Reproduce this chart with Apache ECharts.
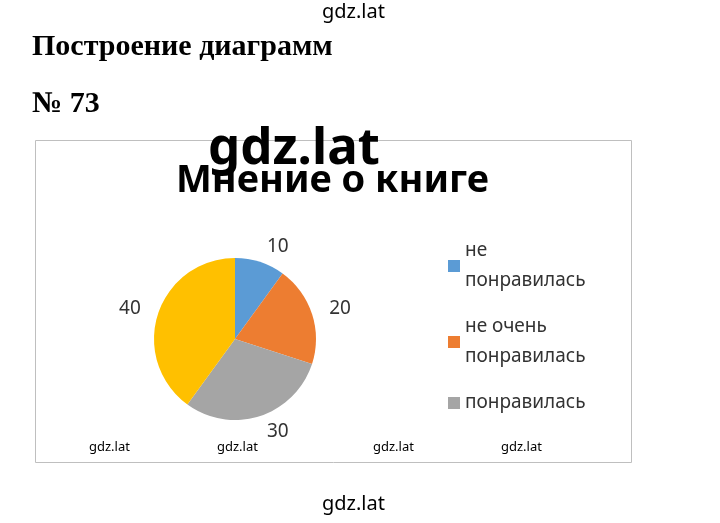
<!DOCTYPE html><html><head><meta charset="utf-8"><script src="https://cdn.jsdelivr.net/npm/echarts@6/dist/echarts.min.js"></script>
<style>html,body{margin:0;background:#fff}#c{width:720px;height:523px}</style></head><body><div id="c"></div><script>
const categories=['не понравилась','не очень понравилась','понравилась','очень понравилась'];
const values=[10,20,30,40];
const legendLabels={'не понравилась':'не\nпонравилась','не очень понравилась':'не очень\nпонравилась','понравилась':'понравилась'};
const colors=['#5B9BD5','#ED7D31','#A5A5A5','#FFC000'];
const ch=echarts.init(document.getElementById('c'));
const T=(x,y,t,f,extra)=>Object.assign({type:'text',left:x,top:y,style:Object.assign({text:t,font:f,fill:'#000'},extra||{})});
ch.setOption({
animation:false,
color:colors,
graphic:[
{type:'rect',shape:{x:35.5,y:140.5,width:596,height:322},style:{fill:'none',stroke:'#bfbfbf',lineWidth:1}},
T(322,2,'gdz.lat','20px "Noto Sans"'),
T(32,32,'Построение диаграмм','bold 30px "Liberation Serif"'),
T(32,89,'№ 73','bold 30px "Liberation Serif"'),
T(208,124,'gdz.lat','bold 51px "Noto Sans"'),
T(176,162,'Мнение о книге','bold 38px "Noto Sans"'),
T(89,441,'gdz.lat','13px "Noto Sans"'),
T(217,441,'gdz.lat','13px "Noto Sans"'),
T(373,441,'gdz.lat','13px "Noto Sans"'),
T(501,441,'gdz.lat','13px "Noto Sans"'),
T(322,494,'gdz.lat','20px "Noto Sans"')
],
legend:{orient:'vertical',left:443,top:231,itemWidth:12,itemHeight:12,itemGap:16,icon:'rect',
data:categories.slice(0,3),formatter:n=>legendLabels[n],
textStyle:{fontSize:19,fontFamily:'Noto Sans',color:'#333',lineHeight:30}},
series:[{type:'pie',center:[235,339],radius:81,startAngle:90,
label:{show:true,position:'outside',formatter:'{c}',fontSize:19,fontFamily:'Noto Sans',color:'#333',distanceToLabelLine:2},
labelLine:{show:false,length:16,length2:0},
data:categories.map((n,i)=>({name:n,value:values[i]}))}]
});
</script></body></html>
